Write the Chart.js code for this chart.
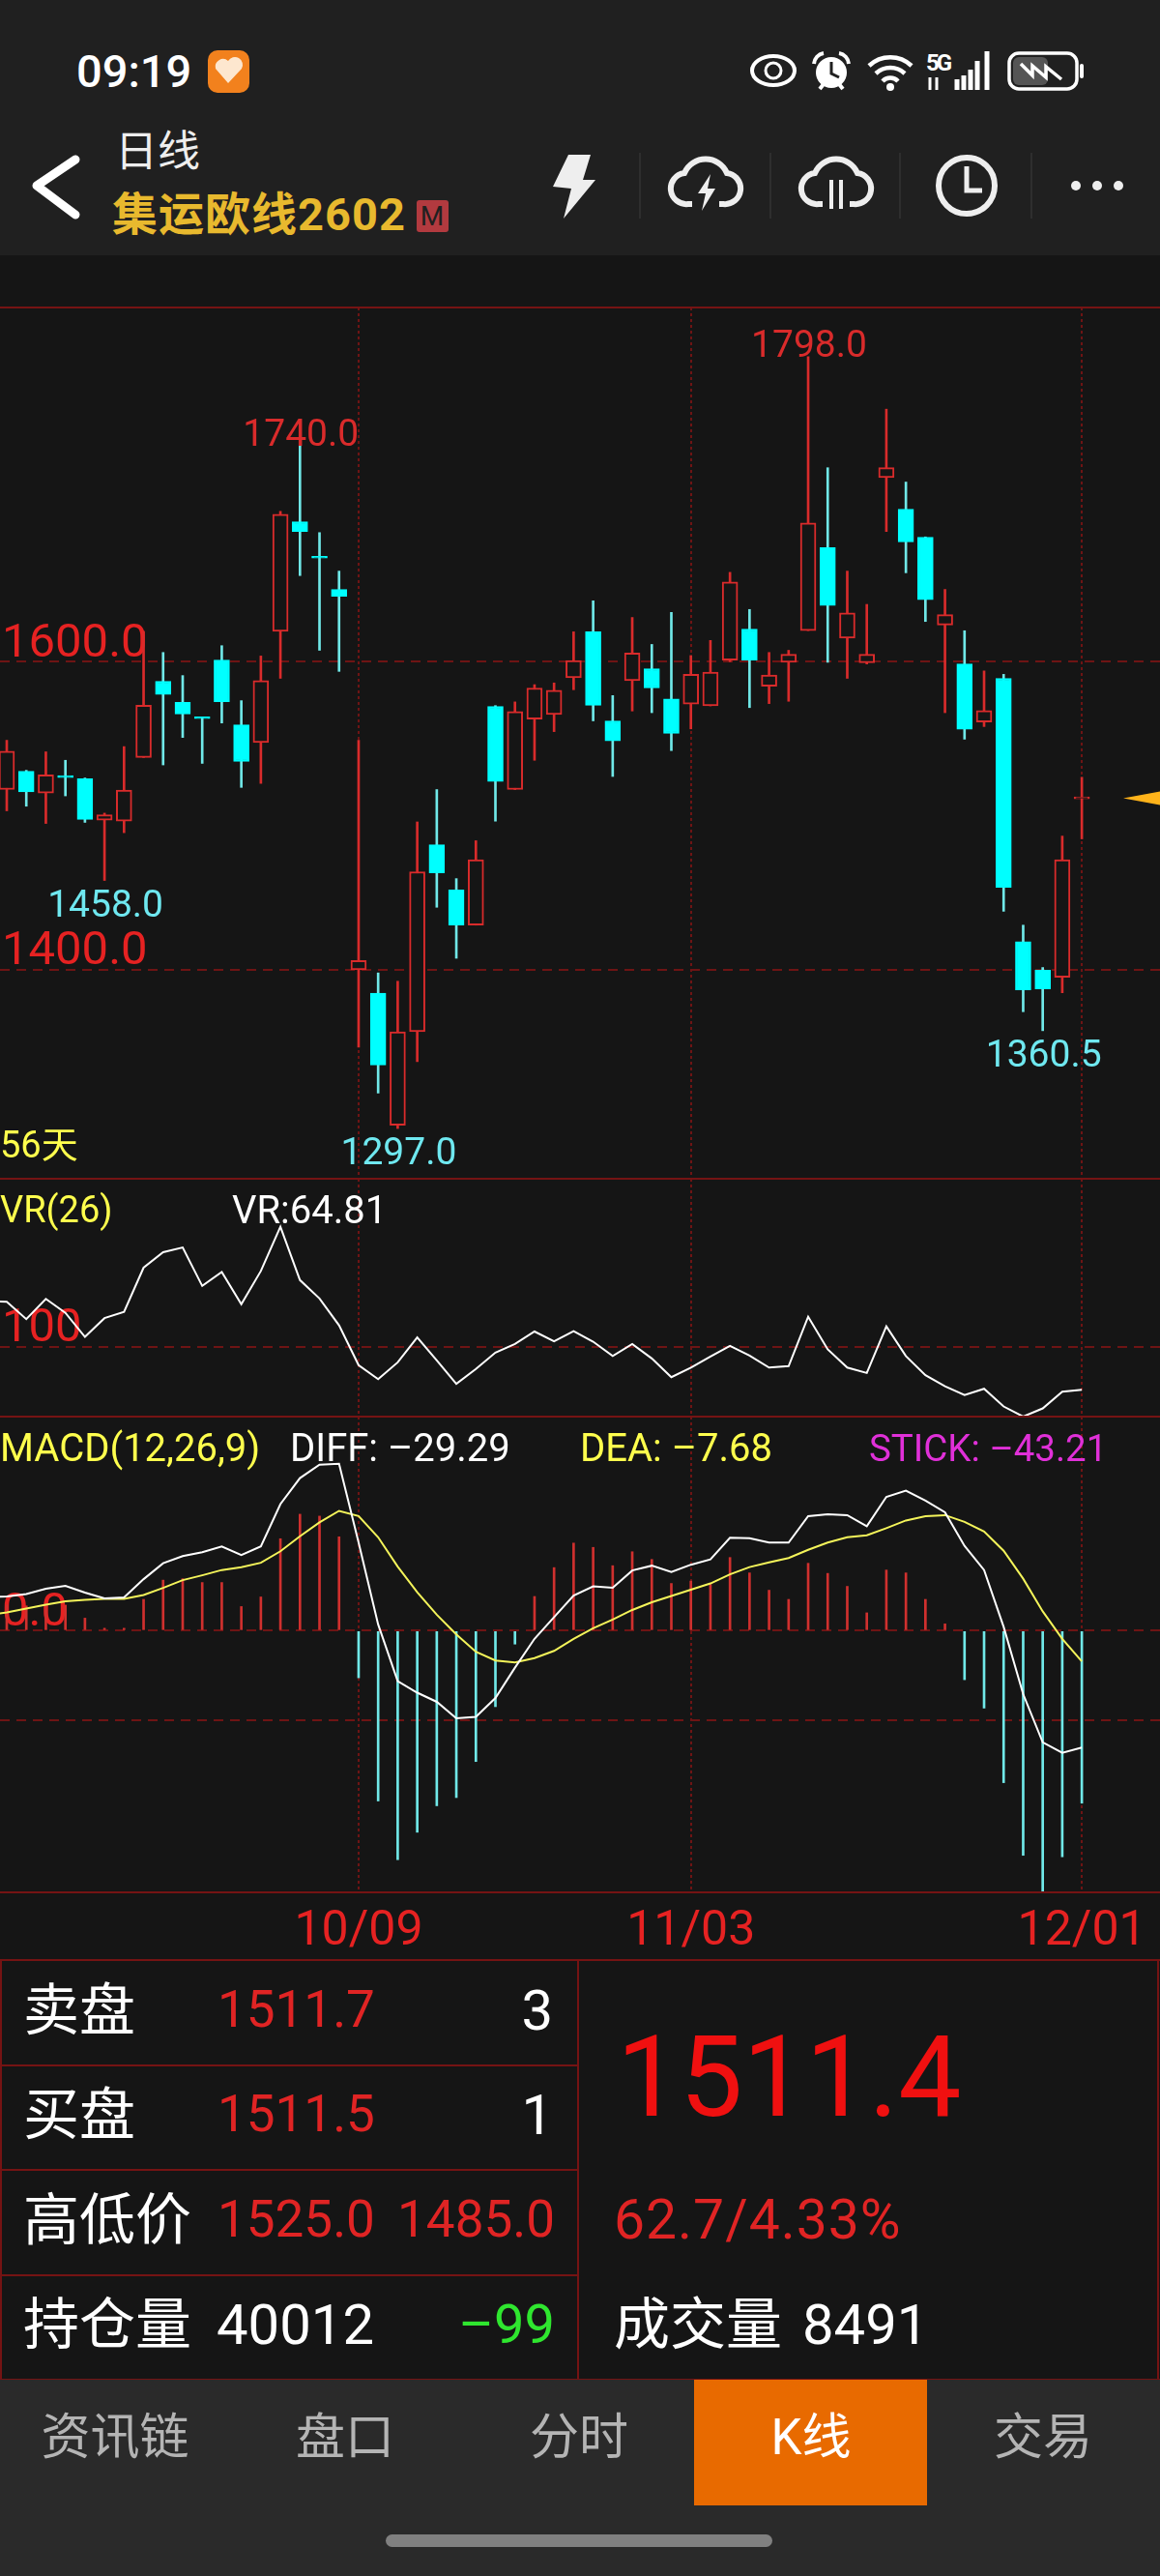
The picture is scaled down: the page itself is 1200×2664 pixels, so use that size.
<!DOCTYPE html>
<html>
<head>
<meta charset="utf-8">
<title>集运欧线2602 日线</title>
<script src="https://cdn.jsdelivr.net/npm/chart.js@4"></script>
<style>
html, body { margin: 0; padding: 0; background: #151515; }
body { position: relative; width: 1200px; height: 2664px; overflow: hidden; font-family: Roboto, "Noto Sans CJK SC", sans-serif; color: #fff; }
canvas { position: absolute; left: 0; }
.t { position: absolute; white-space: nowrap; line-height: 1; }
.line { position: absolute; background: #751313; }
.hline { left: 0; width: 1200px; height: 2px; }
.vline { width: 2px; }
.head { position: absolute; left: 0; top: 0; width: 1200px; height: 264px; background: #202020; }
.nav { position: absolute; left: 0; top: 2461px; width: 1200px; height: 203px; background: #2a2a2a; }
.y { color: #ffff4d; font-size: 40px; }
.r { color: #e02424; font-size: 53px; }
.w { color: #fff; font-size: 58px; }
.n { color: #b4b4b4; font-size: 51px; transform: translateX(-50%); }
</style>
</head>
<body>

<div class="head"></div>
<svg style="position:absolute;left:0;top:0" width="1200" height="264">
  <text x="79" y="90" font-size="47" font-weight="500" fill="#fff" font-family="Roboto">09:19</text>
  <rect x="215" y="52" width="43" height="44" rx="10" fill="#f2811d"/>
  <path d="M236 86 L223 71 A8 8 0 0 1 236 63 A8 8 0 0 1 250 71 Z" fill="#fde7cf"/>
  <!-- status icons -->
  <ellipse cx="800" cy="73" rx="22" ry="15" fill="none" stroke="#fff" stroke-width="4"/>
  <circle cx="800" cy="73" r="8" fill="none" stroke="#fff" stroke-width="3"/>
  <circle cx="860" cy="75" r="16" fill="#fff"/>
  <polyline points="860,64 860,76 868,80" fill="none" stroke="#202020" stroke-width="3"/>
  <path d="M842 66 A12 12 0 0 1 852 55 M878 66 A12 12 0 0 0 868 55 M848 92 L852 87 M872 92 L868 87" fill="none" stroke="#fff" stroke-width="4"/>
  <path d="M899 68 A32 32 0 0 1 943 68 M906 76 A22 22 0 0 1 936 76 M913 84 A11 11 0 0 1 929 84" fill="none" stroke="#fff" stroke-width="4.5"/>
  <circle cx="921" cy="90" r="4" fill="#fff"/>
  <text x="958" y="73" font-size="24" font-weight="700" fill="#fff" font-family="Roboto" textLength="27">5G</text>
  <path d="M990 93V82M997 93V78M1004 93V72M1011 93V63M1021 93V53" stroke="#fff" stroke-width="5"/>
  <path d="M962 93V80M969 93V80" stroke="#fff" stroke-width="3"/>
  <rect x="1044" y="55" width="70" height="37" rx="10" fill="none" stroke="#fff" stroke-width="3.5"/>
  <rect x="1048" y="59" width="36" height="29" rx="6" fill="#555"/>
  <rect x="1117" y="66" width="4" height="15" rx="2" fill="#fff"/>
  <polyline points="1056,66 1068,78 1068,68 1082,80 1082,69 1098,82" fill="none" stroke="#fff" stroke-width="3.5"/>
  <!-- title bar icons -->
  <polyline points="78,165 38,192 78,222" fill="none" stroke="#fff" stroke-width="9" stroke-linecap="round" stroke-linejoin="round"/>
  <rect x="431" y="207" width="33" height="33" rx="3" fill="#b23a3f"/>
  <text x="447" y="233" font-size="28" fill="#202020" text-anchor="middle" font-family="Roboto">M</text>
  <polygon points="588,160 611,160 603,186 616,186 583,226 591,195 572,193" fill="#eee"/>
  <path d="M662 158V226M797 158V226M931 158V226M1067 158V226" stroke="#333" stroke-width="1.5"/>
  <path d="M716 211 H712 A16 16 0 0 1 708 179 A24 24 0 0 1 752 179 A16 16 0 0 1 748 211 H744" fill="none" stroke="#eee" stroke-width="6"/>
  <polygon points="735,180 722,200 730,200 726,218 740,195 732,195" fill="#eee"/>
  <path d="M851 211 H847 A16 16 0 0 1 843 179 A24 24 0 0 1 887 179 A16 16 0 0 1 883 211 H879" fill="none" stroke="#eee" stroke-width="6"/>
  <path d="M860 186V216M870 186V216" stroke="#eee" stroke-width="4"/>
  <circle cx="1000" cy="192" r="29" fill="none" stroke="#eee" stroke-width="6"/>
  <polyline points="1000,172 1000,197 1016,197" fill="none" stroke="#eee" stroke-width="5"/>
  <circle cx="1113" cy="192" r="5" fill="#eee"/>
  <circle cx="1135" cy="192" r="5" fill="#eee"/>
  <circle cx="1157" cy="192" r="5" fill="#eee"/>
</svg>
<div class="t" style="left:119px;top:135px;font-size:44px;color:#eee">日线</div>
<div class="t" style="left:116px;top:198px;font-size:47px;font-weight:700;letter-spacing:1px;color:#e8b92e">集运欧线2602</div>

<canvas id="mainChart" width="1200" height="901" style="top:318px"></canvas>
<canvas id="vrChart" width="1200" height="246" style="top:1219px"></canvas>
<canvas id="macdChart" width="1200" height="561" style="top:1465px"></canvas>

<div class="line hline" style="top:317px"></div>
<div class="line hline" style="top:1218px"></div>
<div class="line hline" style="top:1464px"></div>
<div class="line hline" style="top:1956px"></div>

<div class="t y" style="left:0;top:1165px;font-size:38px">56天</div>
<div class="t y" style="left:0;top:1232px;font-size:38px">VR(26)</div>
<div class="t" style="left:240px;top:1232px;font-size:40px">VR:64.81</div>
<div class="t y" style="left:0;top:1478px">MACD(12,26,9)</div>
<div class="t" style="left:300px;top:1478px;font-size:40px">DIFF: –29.29</div>
<div class="t y" style="left:600px;top:1478px">DEA: –7.68</div>
<div class="t" style="left:899px;top:1479px;font-size:38.5px;color:#e030d8">STICK: –43.21</div>

<!-- quote table -->
<div class="line hline" style="top:2026px"></div>
<div class="line" style="left:0;top:2135px;width:597px;height:2px"></div>
<div class="line" style="left:0;top:2243px;width:597px;height:2px"></div>
<div class="line" style="left:0;top:2352px;width:597px;height:2px"></div>
<div class="line hline" style="top:2460px"></div>
<div class="line vline" style="left:0;top:2026px;height:435px"></div>
<div class="line vline" style="left:597px;top:2026px;height:435px"></div>
<div class="line vline" style="left:1197px;top:2026px;height:435px"></div>

<div class="t w" style="left:24px;top:2050px">卖盘</div>
<div class="t r" style="left:225px;top:2052px">1511.7</div>
<div class="t w" style="right:628px;top:2050px">3</div>
<div class="t w" style="left:24px;top:2158px">买盘</div>
<div class="t r" style="left:225px;top:2160px">1511.5</div>
<div class="t w" style="right:628px;top:2158px">1</div>
<div class="t w" style="left:24px;top:2267px">高低价</div>
<div class="t r" style="left:225px;top:2269px">1525.0</div>
<div class="t r" style="right:626px;top:2269px">1485.0</div>
<div class="t w" style="left:24px;top:2375px">持仓量</div>
<div class="t w" style="left:224px;top:2375px">40012</div>
<div class="t" style="right:626px;top:2376px;font-size:56px;color:#2fe62f">–99</div>

<div class="t" style="left:638px;top:2090px;font-size:116px;color:#f01010">1511.4</div>
<div class="t r" style="left:635px;top:2267px;font-size:57px;letter-spacing:1px">62.7/4.33%</div>
<div class="t w" style="left:635px;top:2375px">成交量</div>
<div class="t w" style="left:830px;top:2375px">8491</div>

<div class="nav"></div>
<div style="position:absolute;left:718px;top:2461px;width:241px;height:130px;background:#e86a00"></div>
<div class="t n" style="left:119px;top:2495px">资讯链</div>
<div class="t n" style="left:357px;top:2495px">盘口</div>
<div class="t n" style="left:599px;top:2495px">分时</div>
<div class="t n" style="left:839px;top:2495px;color:#fff">K线</div>
<div class="t n" style="left:1079px;top:2495px">交易</div>
<div style="position:absolute;left:399px;top:2621px;width:400px;height:13px;border-radius:7px;background:#808080"></div>

<script>
// trading days on screen, 56 bars
const dates = ['09/05','09/08','09/09','09/10','09/11','09/12','09/15','09/16','09/17','09/18','09/19','09/22','09/23','09/24','09/25','09/26','09/29','09/30',
    '10/09','10/10','10/13','10/14','10/15','10/16','10/17','10/20','10/21','10/22','10/23','10/24','10/27','10/28','10/29','10/30','10/31',
    '11/03','11/04','11/05','11/06','11/07','11/10','11/11','11/12','11/13','11/14','11/17','11/18','11/19','11/20','11/21','11/24','11/25','11/26','11/27','11/28','12/01'];
const dateTicks = ['10/09', '11/03', '12/01'];

const openPrices = [1517,1528.9,1514.7,1525.4,1524,1497.2,1496.5,1537.8,1587.3,1573.6,1563.8,1601,1559,1547.5,1619.7,1690.9,1667.6,1646.9,
    1400,1384.8,1299.1,1359.8,1481.2,1451.8,1429,1571,1517,1562.8,1565.7,1589.6,1619.4,1561.6,1587.7,1595.5,1575.8,
    1572.4,1571.3,1601,1621.2,1584,1599.6,1620.1,1674.1,1615.3,1599.3,1719.5,1699,1680.8,1623.8,1598.5,1560.9,1589.2,1418.3,1399.7,1395.2,1511];
const highPrices = [1549,1529.5,1541.5,1536,1524.5,1501.7,1544.9,1619.7,1606,1591,1564,1610.4,1574.7,1603.7,1697.6,1740,1683.8,1658.8,
    1549,1398,1392.6,1496,1517,1459.2,1483.8,1571.5,1573.9,1585.1,1586.2,1619.4,1639.5,1578,1628.7,1611.2,1632,
    1604,1613.8,1658,1633.9,1606,1607.4,1798,1725.9,1658.8,1637.2,1763.9,1716.6,1681,1646.9,1620.1,1594,1591.8,1429,1401.5,1486.8,1525];
const lowPrices = [1503.2,1506.2,1495,1512.9,1495.7,1458,1489,1537.8,1533,1550.8,1534,1560.2,1518.4,1521,1589.2,1655.9,1607.4,1593.7,
    1349.8,1320,1297,1340.4,1440.6,1407.5,1429,1496.5,1517,1536,1554.6,1581.8,1561.6,1525.5,1568,1566.9,1542.3,
    1556.4,1571.3,1600,1570.2,1572.8,1574.3,1620.1,1599.6,1589.2,1598.5,1684.5,1657.7,1626.1,1566.9,1549.7,1557.9,1438,1372.8,1360.5,1385.1,1485];
const closePrices = [1541.9,1515.5,1526.6,1524.8,1497.6,1500.6,1516.6,1571.7,1578.8,1566.1,1563,1574,1535.2,1587.7,1695.7,1684.5,1667.2,1642.5,
    1406,1338.2,1359.8,1463.7,1463,1429,1471.5,1522.2,1567.6,1582.9,1581.4,1600.7,1571.7,1548.6,1605.6,1582.9,1553.4,
    1591.8,1593.3,1651.8,1601,1591.4,1604.8,1690.1,1636.5,1631.7,1604.8,1725.9,1677.8,1640.2,1630.5,1556.1,1568.3,1453.6,1387,1387.7,1471.5,1511.4];

const vrValues = [137.2,122.9,139.5,128.1,108.3,123.7,128.9,165.2,177.9,181.8,150.2,161.7,135.2,162.5,198.9,155,139.9,117.8,
    85,73.5,87.3,107.9,88.9,69.6,81.8,95.3,102.4,112.7,104.7,113,104.3,92.5,102.4,90.5,75.1,
    83,92.1,100.8,92.9,83,84.2,124.9,98,83,78.6,117,92.5,76.7,67.6,60.5,65.6,51,42.7,49.4,63.2,64.81];

const diffValues = [8.56,9.16,10.48,11.21,9.52,8.07,8.31,12.89,16.87,18.68,19.64,21.09,18.92,21.09,31.69,38.2,41.57,41.81,
    22.05,1.57,-12.65,-15.54,-17.83,-21.93,-21.57,-16.87,-9.28,-2.05,3.37,8.8,11.09,10.72,15.06,16.27,14.7,
    16.51,17.83,23.26,23.14,22.05,22.05,28.68,29.16,28.92,26.15,33.5,35.07,32.54,29.64,21.21,15.18,0.96,-15.91,-27.96,-30.61,-29.29];
const deaValues = [4.58,5.54,6.51,7.35,7.71,7.95,7.95,8.92,10.72,12.65,13.86,15.18,15.91,16.99,19.88,23.62,27.11,30,
    28.68,23.38,16.03,9.64,3.98,-0.96,-5.3,-7.47,-7.95,-6.87,-5.06,-2.05,0.6,2.77,5.18,7.11,8.68,
    10.24,11.81,14.1,15.91,17.11,18.2,20.24,22.05,23.38,23.86,25.67,27.59,28.68,28.92,27.23,24.82,20,13.01,4.82,-2.05,-7.68];
const stickValues = [6.5,6.2,6.8,6.39,3.13,0.6,0.6,7.83,12.65,13.01,12.05,12.05,6.03,8.44,23.02,29.16,28.68,23.5,
    -11.81,-42.66,-57.36,-50.49,-43.86,-41.81,-32.78,-19.04,-3.37,8.56,15.79,21.93,20.85,16.27,19.76,17.83,11.81,
    12.41,11.57,18.32,14.46,10.12,7.83,16.87,14.34,11.09,4.46,15.18,14.46,7.83,1.69,-12.29,-19.4,-38.08,-56.27,-65.31,-56.64,-43.21];

// bar just off screen, the indicator lines run in from it
const vrBefore = 137.5;
const diffBefore = 8.4;
const deaBefore = 3.8;

const priceTicks = [1400, 1600];
const vrTicks = [100];
const macdTicks = [-22.5, 0];
const highMarks = [15, 41];
const lowMarks = [5, 20, 53];

const RED = '#d92b2b';
const TICK_RED = '#e62222';
const CYAN = '#00ffff';
const CYAN_WICK = '#70e8e8';
const BG = '#151515';
const GRID = '#6e1414';

Chart.defaults.font.family = 'Roboto';
Chart.defaults.animation = false;

const isUp = i => closePrices[i] >= openPrices[i];
const xy = arr => arr.map((v, i) => ({ x: i, y: v }));

// the visible window cuts into the first candle, so the x scale starts a bit before index 0
function xScale(showLabels) {
    return {
        type: 'linear',
        offset: false,
        min: -0.346,
        max: 59,
        afterBuildTicks(s) { s.ticks = dateTicks.map(d => ({ value: dates.indexOf(d) })); },
        afterFit(s) {
            s.height = showLabels ? 70 : 0;
            s.paddingLeft = 0;
            s.paddingRight = 0;
        },
        border: { display: false, dash: [3, 3] },
        grid: { offset: false, color: GRID, lineWidth: 2, drawTicks: false },
        ticks: {
            display: showLabels,
            autoSkip: false,
            maxRotation: 0,
            padding: 12,
            color: TICK_RED,
            font: { size: 50 },
            callback: v => dates[v]
        }
    };
}

function yScale(min, max, ticks, label) {
    return {
        min: min,
        max: max,
        afterBuildTicks(s) { s.ticks = ticks.map(v => ({ value: v })); },
        // labels sit inside the plot, no room kept for them
        afterFit(s) {
            s.width = 0;
            s.paddingTop = 0;
            s.paddingBottom = 0;
        },
        border: { display: false, dash: [10, 7] },
        grid: { color: GRID, lineWidth: 2, drawTicks: false },
        ticks: {
            mirror: true,
            autoSkip: false,
            padding: 2,
            labelOffset: -18,
            color: TICK_RED,
            font: { size: 49 },
            callback: label
        }
    };
}

const baseOptions = {
    responsive: false,
    layout: { padding: 0, autoPadding: false },
    plugins: { legend: { display: false }, tooltip: { enabled: false } }
};

// high / low price labels and the last price arrow
const priceMarks = {
    id: 'priceMarks',
    afterDatasetsDraw(chart) {
        const c = chart.ctx;
        const x = chart.scales.x;
        const y = chart.scales.y;
        c.save();
        c.font = '39px Roboto';
        c.textAlign = 'center';
        c.fillStyle = RED;
        c.textBaseline = 'alphabetic';
        highMarks.forEach(i => {
            c.fillText(highPrices[i].toFixed(1), x.getPixelForValue(i) + 1, y.getPixelForValue(highPrices[i]));
        });
        c.fillStyle = '#6fe8f0';
        c.textBaseline = 'top';
        lowMarks.forEach(i => {
            c.fillText(lowPrices[i].toFixed(1), x.getPixelForValue(i) + 1, y.getPixelForValue(lowPrices[i]) + 8);
        });
        const last = y.getPixelForValue(closePrices[closePrices.length - 1]);
        c.fillStyle = '#ffb31a';
        c.beginPath();
        c.moveTo(1162, last);
        c.lineTo(1200, last - 7);
        c.lineTo(1200, last + 7);
        c.closePath();
        c.fill();
        c.restore();
    }
};

new Chart(document.getElementById('mainChart'), {
    type: 'bar',
    data: {
        datasets: [{
            label: 'wick',
            order: 2,
            grouped: false,
            barThickness: 2,
            barPercentage: 1,
            data: lowPrices.map((l, i) => ({ x: i, y: [l, highPrices[i]] })),
            backgroundColor: openPrices.map((_, i) => isUp(i) ? RED : CYAN_WICK)
        }, {
            label: 'body',
            order: 1,
            grouped: false,
            barThickness: 16,
            barPercentage: 1,
            minBarLength: 2,
            borderSkipped: false,
            data: openPrices.map((o, i) => ({ x: i, y: [o, closePrices[i]] })),
            backgroundColor: openPrices.map((_, i) => isUp(i) ? BG : CYAN),
            borderColor: openPrices.map((_, i) => isUp(i) ? RED : CYAN),
            borderWidth: 2
        }]
    },
    options: {
        ...baseOptions,
        scales: {
            x: xScale(false),
            y: yScale(1264.4, 1829.9, priceTicks, v => v.toFixed(1))
        }
    },
    plugins: [priceMarks]
});

new Chart(document.getElementById('vrChart'), {
    type: 'line',
    data: {
        datasets: [{
            label: 'VR',
            data: [{ x: -1, y: vrBefore }, ...xy(vrValues)],
            borderColor: '#fff',
            borderWidth: 2,
            pointRadius: 0,
            tension: 0
        }]
    },
    options: {
        ...baseOptions,
        scales: {
            x: xScale(false),
            y: yScale(42.67, 238.4, vrTicks, v => String(v))
        }
    }
});

new Chart(document.getElementById('macdChart'), {
    data: {
        datasets: [{
            type: 'line',
            label: 'DIFF',
            order: 1,
            data: [{ x: -1, y: diffBefore }, ...xy(diffValues)],
            borderColor: '#fff',
            borderWidth: 2,
            pointRadius: 0,
            tension: 0
        }, {
            type: 'line',
            label: 'DEA',
            order: 2,
            data: [{ x: -1, y: deaBefore }, ...xy(deaValues)],
            borderColor: '#f4f45a',
            borderWidth: 2,
            pointRadius: 0,
            tension: 0
        }, {
            type: 'bar',
            label: 'STICK',
            order: 3,
            grouped: false,
            barThickness: 2,
            barPercentage: 1,
            data: xy(stickValues),
            backgroundColor: stickValues.map(v => v >= 0 ? '#d0302e' : CYAN_WICK)
        }]
    },
    options: {
        ...baseOptions,
        scales: {
            x: xScale(true),
            y: yScale(-65.3, 53.6, macdTicks, v => v === 0 ? '0.0' : '')
        }
    }
});
</script>
</body>
</html>
